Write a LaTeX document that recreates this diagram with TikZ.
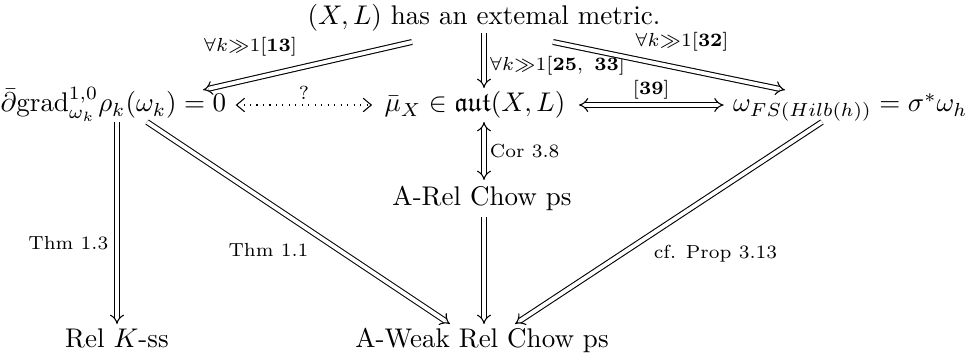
\documentclass[tikz,border=0pt]{standalone}
\usepackage{amssymb}
\usetikzlibrary{arrows.meta}
\begin{document}
\begin{tikzpicture}[x=0.3703pt,y=-0.3703pt,
  obj/.style={inner sep=0pt},
  lab/.style={font=\scriptsize, inner sep=1pt},
  dbl/.style={double, double distance=1.4pt, line width=0.4pt, -{Implies[scale=1.7]}},
  dblboth/.style={double, double distance=1.4pt, line width=0.4pt, {Implies[scale=1.7]}-{Implies[scale=1.7]}},
  dotarr/.style={dotted, line width=0.4pt, {Straight Barb[length=3pt,width=5pt]}-{Straight Barb[length=3pt,width=5pt]}}]
\useasboundingbox (0,0) rectangle (968,359);
% nodes
\node[obj, anchor=base] (top) at (484,25) {$(X,L)$ has an extemal metric.};
\node[obj, anchor=base west] (left) at (0,112) {$\bar\partial\mathrm{grad}^{1,0}_{\omega_k}\rho_k(\omega_k)=0$};
\node[obj, anchor=base] (mid) at (475,112) {$\bar\mu_X\in\mathfrak{aut}(X,L)$};
\node[obj, anchor=base east] (right) at (968,112) {$\omega_{FS(Hilb(h))}=\sigma^*\omega_h$};
\node[obj, anchor=base] (arel) at (482,205) {A-Rel Chow ps};
\node[obj, anchor=base] (relk) at (117,347) {Rel $K$-ss};
\node[obj, anchor=base] (aweak) at (482,347) {A-Weak Rel Chow ps};
% connectors
\draw[dbl] ([shift={(-72,17)}]top.base) -- ([shift={(203,-22)}]left.base west)
  node[lab, midway, shift={(-57,-19)}] {$\forall k{\gg}1[\mathbf{13}]$};
\draw[dbl] ([shift={(0,8)}]top.base) -- ([shift={(9,-24)}]mid.base)
  node[lab, pos=0.6, right=1pt] {$\forall k{\gg}1[\mathbf{25,\ 33}]$};
\draw[dbl] ([shift={(69,17)}]top.base) -- ([shift={(-183,-22)}]right.base east)
  node[lab, midway, shift={(13,-24)}] {$\forall k{\gg}1[\mathbf{32}]$};
\draw[dotarr] ([shift={(9,-7)}]left.base east) -- ([shift={(-12,-7)}]mid.base west)
  node[lab, midway, above=1pt] {?};
\draw[dblboth] ([shift={(13,-7)}]mid.base east) -- ([shift={(-9,-7)}]right.base west)
  node[lab, midway, above=1pt] {$[\mathbf{39}]$};
\draw[dblboth] ([shift={(9,10)}]mid.base) -- ([shift={(2,-25)}]arel.base)
  node[lab, midway, right=1pt] {Cor 3.8};
\draw[dbl] ([shift={(2,12)}]arel.base) -- ([shift={(2,-23)}]aweak.base);
\draw[dbl] ([shift={(117,10)}]left.base west) -- ([shift={(0,-23)}]relk.base)
  node[lab, pos=0.6, left=2pt] {Thm 1.3};
\draw[dbl] ([shift={(147,10)}]left.base west) -- ([shift={(-32,-23)}]aweak.base)
  node[lab, midway, shift={(-30,27)}] {Thm 1.1};
\draw[dbl] ([shift={(-146,10)}]right.base east) -- ([shift={(33,-23)}]aweak.base)
  node[lab, midway, shift={(47,31)}] {cf. Prop 3.13};
\end{tikzpicture}
\end{document}
